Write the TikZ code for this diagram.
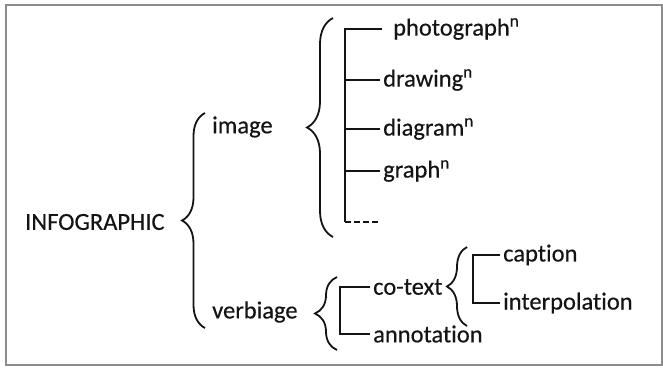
\documentclass[tikz,border=0pt]{standalone}
\usepackage{fontspec}
\setmainfont{Carlito}[Ligatures=NoCommon,UprightFeatures={FakeBold=0.4}]
\usepackage{xcolor}
\usetikzlibrary{positioning,decorations.pathreplacing}
\definecolor{ink}{RGB}{20,20,20}
\definecolor{frame}{RGB}{140,140,140}
\newcommand{\nsup}[1]{#1\textsuperscript{n}}

\begin{document}
\begin{tikzpicture}[x=1pt,y=-1pt,font=\fontsize{24.5}{28}\selectfont,color=ink,
 t/.style={anchor=west,inner sep=3pt,text=ink},
 br/.style={draw=ink,line width=1.8pt,decorate,decoration={brace,amplitude=#1}},
 ln/.style={draw=ink,line width=2pt}]
 \useasboundingbox (0,0) rectangle (663,367);
 \draw[frame,line width=2pt] (662,5) -- (6,5) -- (6,365) -- (662,365) -- cycle;
 % terms
 \node[t](info) at (22,222){INFOGRAPHIC};
 \node[t](img) at (209,127){image};
 \node[t](verb) at (209,312){verbiage};
 \node[t](photo) at (390,29){\nsup{photograph}};
 \node[t](draw) at (380,80){\nsup{drawing}};
 \node[t](diag) at (380,129){\nsup{diagram}};
 \node[t](graph) at (380,171){\nsup{graph}};
 \coordinate (more) at (378,222);
 \node[t](cotext) at (370,287){co-text};
 \node[t](annot) at (370,334){annotation};
 \node[t](capt) at (500,255){caption};
 \node[t](interp) at (500,303){interpolation};
 % spines
 \coordinate (imsp) at (345,0);
 \coordinate (vbsp) at (340,0);
 \coordinate (cosp) at (473,0);
 % braces
 \coordinate (b1a) at (205,328); \coordinate (b1b) at (205,113);
 \coordinate (b2a) at (333,237); \coordinate (b2b) at (333,18);
 \coordinate (b3a) at (337,350); \coordinate (b3b) at (337,277);
 \coordinate (b4a) at (467,326); \coordinate (b4b) at (467,247);
 \draw[br=23pt](b1a)--(b1b);
 \draw[br=26pt](b2a)--(b2b);
 \draw[br=22pt](b3a)--(b3b);
 \draw[br=20pt](b4a)--(b4b);
 % brackets
 \draw[ln]([xshift=-8pt]photo.west)--(photo.west-|imsp)--(more-|imsp);
 \draw[ln](draw.west)--(draw.west-|imsp);
 \draw[ln](diag.west)--(diag.west-|imsp);
 \draw[ln](graph.west)--(graph.west-|imsp);
 \draw[ln,dash pattern=on 6pt off 3pt](more-|imsp)--(more);
 \draw[ln](cotext.west)--(cotext.west-|vbsp)--(annot.west-|vbsp)--(annot.west);
 \draw[ln](capt.west)--(capt.west-|cosp)--(interp.west-|cosp)--(interp.west);
\end{tikzpicture}
\end{document}
